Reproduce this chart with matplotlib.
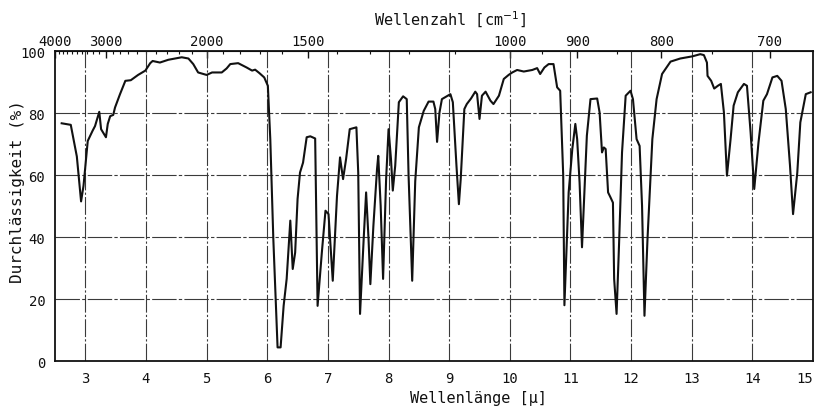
#!/usr/bin/env python3
"""IR spectrum: Durchlaessigkeit vs. Wellenlaenge with a Wellenzahl top axis."""

import numpy as np
import matplotlib
matplotlib.use("Agg")
import matplotlib.pyplot as plt
import matplotlib.transforms as mtransforms
from matplotlib.ticker import FixedLocator, NullFormatter

# Wavelength (micron)
wavelength = [
    2.61, 2.76, 2.86, 2.93, 2.97, 3.01, 3.04, 3.12, 3.16, 3.23, 3.26, 3.34,
    3.37, 3.41, 3.46, 3.49, 3.57, 3.66, 3.75, 3.87, 3.99, 4.07, 4.11, 4.23,
    4.37, 4.59, 4.70, 4.78, 4.86, 5.00, 5.09, 5.25, 5.33, 5.39, 5.52, 5.66,
    5.75, 5.80, 5.87, 5.95, 6.01, 6.05, 6.10, 6.17, 6.22, 6.27, 6.32, 6.38,
    6.42, 6.46, 6.50, 6.54, 6.59, 6.65, 6.71, 6.79, 6.83, 6.90, 6.96, 7.01,
    7.08, 7.15, 7.20, 7.25, 7.30, 7.36, 7.47, 7.50, 7.53, 7.59, 7.63, 7.67,
    7.70, 7.75, 7.81, 7.83, 7.87, 7.91, 7.96, 8.00, 8.04, 8.07, 8.11, 8.17,
    8.24, 8.30, 8.33, 8.39, 8.44, 8.50, 8.58, 8.66, 8.74, 8.77, 8.80, 8.84,
    8.88, 8.96, 9.02, 9.06, 9.12, 9.16, 9.19, 9.25, 9.29, 9.36, 9.43, 9.46,
    9.50, 9.54, 9.60, 9.68, 9.73, 9.82, 9.90, 9.98, 10.04, 10.12, 10.23,
    10.37, 10.45, 10.50, 10.57, 10.64, 10.72, 10.78, 10.83, 10.88, 10.90,
    10.97, 11.03, 11.08, 11.11, 11.15, 11.19, 11.23, 11.27, 11.33, 11.44,
    11.48, 11.52, 11.55, 11.58, 11.62, 11.66, 11.70, 11.72, 11.76, 11.80,
    11.85, 11.91, 11.99, 12.03, 12.09, 12.14, 12.18, 12.22, 12.27, 12.35,
    12.42, 12.51, 12.65, 12.81, 13.01, 13.14, 13.20, 13.25, 13.26, 13.32,
    13.37, 13.43, 13.48, 13.53, 13.58, 13.64, 13.69, 13.76, 13.86, 13.91,
    13.97, 14.03, 14.10, 14.18, 14.24, 14.33, 14.41, 14.48, 14.55, 14.62,
    14.67, 14.74, 14.79, 14.88, 14.96,
]

# Transmission (%) at those wavelengths
transmission = [
    76.7, 76.2, 66.0, 51.5, 56.5, 65.0, 71.0, 74.3, 75.8, 80.4, 74.8, 72.2,
    76.5, 79.0, 79.4, 81.8, 86.0, 90.4, 90.6, 92.3, 93.7, 96.1, 96.8, 96.3,
    97.2, 98.0, 97.6, 95.8, 93.1, 92.3, 93.1, 93.1, 94.4, 95.8, 96.1, 94.7,
    93.7, 94.0, 92.9, 91.5, 88.8, 71.6, 39.4, 4.4, 4.4, 17.8, 26.5, 45.3,
    29.7, 35.0, 52.3, 60.8, 64.0, 72.2, 72.5, 71.8, 17.8, 35.0, 48.5, 47.4,
    25.9, 53.3, 65.7, 58.7, 65.2, 74.8, 75.4, 60.8, 15.2, 39.4, 54.4, 39.4,
    24.8, 43.6, 61.9, 66.2, 50.1, 26.5, 58.7, 74.8, 65.2, 55.0, 63.0, 83.5,
    85.4, 84.5, 60.0, 25.9, 58.0, 75.4, 80.7, 83.7, 83.7, 81.3, 70.7, 80.2,
    84.5, 85.4, 86.1, 83.5, 63.0, 50.6, 58.7, 81.3, 82.9, 84.7, 86.9, 86.1,
    78.1, 85.6, 86.9, 84.0, 82.9, 85.6, 91.0, 92.3, 93.1, 93.9, 93.4,
    93.9, 94.5, 92.6, 94.7, 95.8, 95.8, 88.3, 87.2, 60.0, 18.0,
    54.4, 68.4, 76.5, 71.6, 57.6, 36.7, 54.4, 72.7, 84.5, 84.7,
    80.2, 67.3, 68.9, 68.4, 54.4, 52.8, 51.1, 26.5, 15.2, 37.2,
    67.3, 85.6, 87.2, 84.5, 71.6, 69.4, 50.1, 14.6, 39.4, 71.6,
    84.5, 92.6, 96.6, 97.6, 98.3, 99.0, 98.7, 96.3, 92.0, 90.4,
    87.9, 88.8, 89.4, 80.2, 59.8, 71.6, 82.4, 86.7, 89.4, 88.8,
    73.8, 55.5, 70.5, 84.0, 86.1, 91.5, 92.0, 90.4, 81.3, 63.0,
    47.4, 60.8, 77.0, 86.1, 86.7,
]

# Axis ticks
wl_ticks = list(range(3, 16))
pct_ticks = [0, 20, 40, 60, 80, 100]
wn_ticks = [4000, 3000, 2000, 1500, 1000, 900, 800, 700]
wn_minor = list(range(3900, 2000, -100)) + [1900, 1800, 1700, 1600, 1400, 1300,
                                            1200, 1100, 950, 850, 750]

FONT = "DejaVu Sans Mono"
INK = "#111111"


def wl_to_wn(x):
    x = np.asarray(x, dtype=float)
    with np.errstate(divide="ignore", invalid="ignore"):
        return 10000.0 / x


fig = plt.figure(figsize=(8.16, 4.10), dpi=100)
ax = fig.add_axes([0.0674, 0.117, 0.929, 0.756])

# grid like the printed chart paper
for v in wl_ticks[:-1]:
    ax.axvline(v, color="#3a3a3a", lw=0.8, ls=(0, (16, 2, 2, 2)), zorder=1)
for h in pct_ticks[1:-1]:
    ax.axhline(h, color="#3a3a3a", lw=0.8, ls=(0, (22, 2, 3, 2)), zorder=1)

ax.plot(wavelength, transmission, color=INK, lw=1.5, zorder=3)

ax.set_xlim(2.5, 15)
ax.set_ylim(0, 100)
ax.set_xticks(wl_ticks)
ax.set_yticks(pct_ticks)
ax.tick_params(axis="both", length=0, pad=7, labelsize=10, colors=INK)
for lab in ax.get_xticklabels() + ax.get_yticklabels():
    lab.set_family(FONT)
# keep the "15" inside the picture
shift = mtransforms.ScaledTranslation(-8 / 100, 0, fig.dpi_scale_trans)
last = ax.get_xticklabels()[-1]
last.set_transform(last.get_transform() + shift)

for side in ["left", "right", "top", "bottom"]:
    ax.spines[side].set_linewidth(1.3)
    ax.spines[side].set_color(INK)

ax.set_xlabel("Wellenlänge [µ]", family=FONT, fontsize=11, color=INK,
              labelpad=4)
ax.xaxis.label.set_x(0.558)
ax.set_ylabel("Durchlässigkeit (%)", family=FONT, fontsize=11.5, color=INK)
ax.yaxis.set_label_coords(-0.04, 0.55)

# wavenumber scale on top
top = ax.secondary_xaxis("top", functions=(wl_to_wn, wl_to_wn))
top.xaxis.set_major_locator(FixedLocator(wn_ticks))
top.xaxis.set_minor_locator(FixedLocator(wn_minor))
top.xaxis.set_minor_formatter(NullFormatter())
top.tick_params(which="major", direction="in", length=5, width=1, pad=2,
                labelsize=10, colors=INK)
top.tick_params(which="minor", direction="in", length=2.5, width=0.8, colors=INK)
for lab in top.get_xticklabels():
    lab.set_family(FONT)
top.set_xlabel("Wellenzahl [cm$^{-1}$]", family=FONT, fontsize=11, color=INK,
               labelpad=7)
top.xaxis.label.set_x(0.522)

fig.savefig("out.png", dpi=100)
